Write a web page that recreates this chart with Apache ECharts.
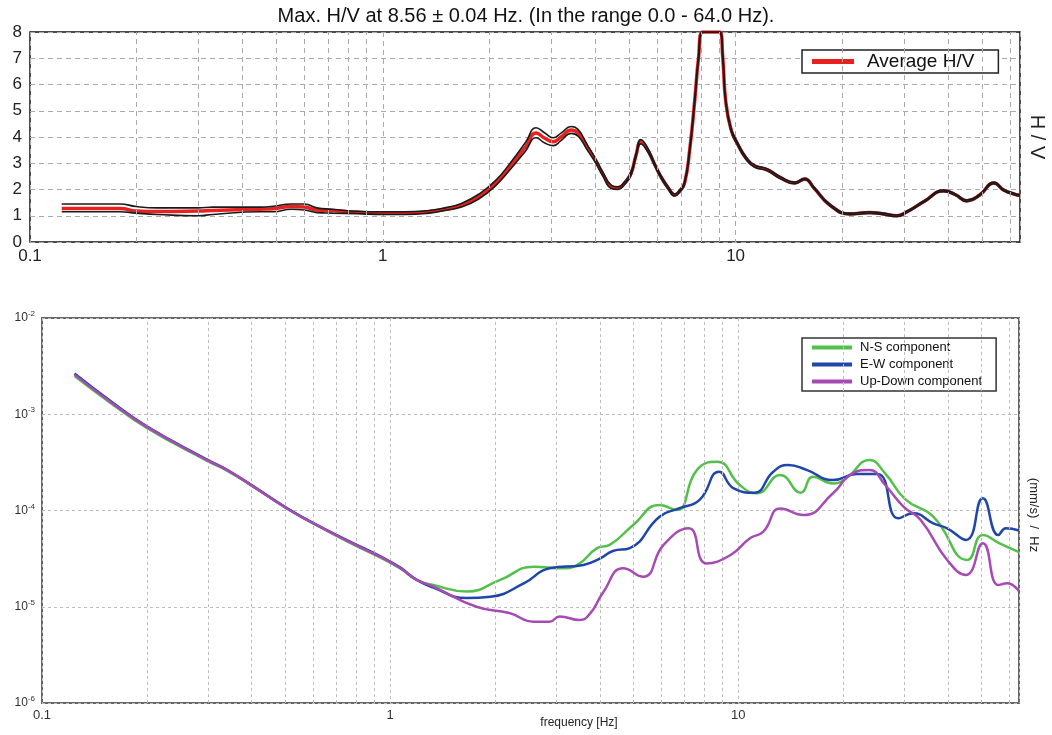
<!DOCTYPE html>
<html><head><meta charset="utf-8">
<script src="https://cdn.jsdelivr.net/npm/echarts@6/dist/echarts.min.js"></script>
<style>html,body{margin:0;padding:0;background:#fff}#c{width:1052px;height:735px}</style>
</head><body><div id="c"></div>
<script>
const FONT = '"Liberation Sans", Arial, sans-serif';
const titleText = 'Max. H/V at 8.56 \u00b1 0.04 Hz. (In the range 0.0 - 64.0 Hz).';

// ---- Top chart: H/V ratio ----
const hvFreq = [0.123, 0.18, 0.2, 0.23, 0.3, 0.33, 0.45, 0.49, 0.55, 0.6, 0.65, 0.72, 0.85, 1.0, 1.15, 1.35, 1.5, 1.67, 1.87, 2.09, 2.31, 2.54, 2.72, 2.88, 3.04, 3.2, 3.42, 3.58, 3.8, 4.0, 4.22, 4.44, 4.64, 4.85, 5.05, 5.22, 5.39, 5.64, 5.9, 6.14, 6.45, 6.72, 6.95, 7.17, 7.41, 7.66, 7.85, 8.07, 8.5, 9.01, 9.2, 9.37, 9.7, 10.1, 10.7, 11.3, 12.3, 13.4, 14.7, 15.7, 16.7, 18.5, 21.1, 24.0, 26, 28.7, 30.6, 34.2, 38.9, 42, 45.2, 49.2, 54, 57.5, 61.8, 64];
const hvAvg = [1.28, 1.28, 1.18, 1.16, 1.18, 1.2, 1.25, 1.27, 1.35, 1.33, 1.22, 1.2, 1.13, 1.1, 1.1, 1.15, 1.25, 1.4, 1.73, 2.25, 2.93, 3.63, 4.15, 3.95, 3.82, 4.0, 4.27, 4.15, 3.6, 3.12, 2.55, 2.1, 2.05, 2.25, 2.6, 3.3, 3.82, 3.5, 2.95, 2.49, 2.05, 1.79, 1.95, 2.25, 3.5, 5.4, 7.0, 8, 8, 8, 7.0, 5.4, 4.3, 3.77, 3.2, 2.9, 2.75, 2.45, 2.25, 2.4, 2.05, 1.41, 1.07, 1.12, 1.08, 1.0, 1.15, 1.54, 1.95, 1.8, 1.57, 1.79, 2.25, 1.98, 1.82, 1.78];
const hvUpper = [1.45, 1.45, 1.35, 1.3, 1.3, 1.33, 1.33, 1.36, 1.45, 1.45, 1.3, 1.25, 1.17, 1.15, 1.15, 1.2, 1.3, 1.47, 1.82, 2.35, 3.05, 3.8, 4.35, 4.15, 3.97, 4.15, 4.4, 4.28, 3.7, 3.2, 2.62, 2.17, 2.1, 2.3, 2.66, 3.36, 3.9, 3.57, 3.0, 2.54, 2.1, 1.83, 1.99, 2.3, 3.55, 5.45, 7.05, 8, 8, 8, 7.05, 5.45, 4.35, 3.82, 3.25, 2.94, 2.79, 2.49, 2.28, 2.43, 2.08, 1.44, 1.1, 1.15, 1.11, 1.03, 1.18, 1.57, 1.98, 1.83, 1.6, 1.82, 2.28, 2.01, 1.85, 1.81];
const hvLower = [1.15, 1.15, 1.1, 1.05, 1.0, 1.05, 1.15, 1.15, 1.25, 1.22, 1.12, 1.1, 1.08, 1.05, 1.05, 1.1, 1.2, 1.33, 1.64, 2.15, 2.8, 3.47, 3.97, 3.77, 3.67, 3.86, 4.14, 4.03, 3.5, 3.04, 2.48, 2.04, 2.0, 2.2, 2.54, 3.24, 3.74, 3.43, 2.9, 2.44, 2.0, 1.75, 1.91, 2.2, 3.45, 5.35, 6.95, 8, 8, 8, 6.95, 5.35, 4.25, 3.72, 3.15, 2.86, 2.71, 2.41, 2.22, 2.37, 2.02, 1.38, 1.04, 1.09, 1.05, 0.97, 1.12, 1.51, 1.92, 1.77, 1.54, 1.76, 2.22, 1.95, 1.79, 1.75];

// ---- Bottom chart: spectra ----
const nsFreq = [0.124, 0.157, 0.2, 0.297, 0.34, 0.405, 0.505, 0.6, 0.767, 0.935, 1.07, 1.19, 1.33, 1.66, 2.07, 2.58, 3.13, 3.45, 3.93, 4.27, 4.99, 5.94, 6.65, 7.6, 8.7, 10.1, 11.3, 13.2, 15.1, 16.4, 18.7, 20.4, 23.8, 26.4, 30.3, 36.3, 45.5, 50.4, 56.3, 64];
const nsVal = [2.5e-3, 1.32e-3, 7.2e-4, 3.3e-4, 2.6e-4, 1.76e-4, 1.05e-4, 7.4e-5, 4.6e-5, 3.25e-5, 2.5e-5, 1.9e-5, 1.68e-5, 1.44e-5, 1.9e-5, 2.61e-5, 2.51e-5, 2.72e-5, 4.07e-5, 4.39e-5, 7.08e-5, 1.14e-4, 1.01e-4, 2.63e-4, 3.21e-4, 1.84e-4, 1.51e-4, 2.34e-4, 1.53e-4, 2.24e-4, 1.91e-4, 2.16e-4, 3.35e-4, 2.43e-4, 1.29e-4, 8.63e-5, 3.06e-5, 5.56e-5, 4.56e-5, 3.7e-5];
const ewFreq = [0.124, 0.157, 0.2, 0.297, 0.34, 0.405, 0.505, 0.6, 0.767, 0.935, 1.07, 1.19, 1.33, 1.66, 1.94, 2.42, 2.87, 3.59, 4.01, 4.36, 4.88, 5.94, 6.75, 7.74, 8.8, 9.7, 11.1, 12.6, 13.9, 15.7, 18.7, 21.9, 25.1, 28.8, 31.8, 36.3, 39.8, 45.1, 50.4, 55.8, 58.7, 64];
const ewVal = [2.65e-3, 1.38e-3, 7.5e-4, 3.4e-4, 2.65e-4, 1.78e-4, 1.06e-4, 7.45e-5, 4.75e-5, 3.35e-5, 2.55e-5, 1.91e-5, 1.58e-5, 1.23e-5, 1.27e-5, 1.75e-5, 2.51e-5, 2.72e-5, 3.18e-5, 3.8e-5, 4.07e-5, 8.63e-5, 1.05e-4, 1.29e-4, 2.53e-4, 1.7e-4, 1.53e-4, 2.53e-4, 2.97e-4, 2.64e-4, 2.07e-4, 2.39e-4, 2.39e-4, 8.3e-5, 9.35e-5, 7.36e-5, 6.53e-5, 4.94e-5, 1.34e-4, 5.56e-5, 6.53e-5, 6.2e-5];
const udFreq = [0.124, 0.157, 0.2, 0.297, 0.34, 0.405, 0.505, 0.6, 0.767, 0.935, 1.07, 1.19, 1.33, 1.77, 2.2, 2.58, 2.87, 3.07, 3.5, 3.76, 4.08, 4.67, 5.33, 6.1, 7.2, 8.1, 9.5, 10.8, 11.8, 13.2, 15.4, 18.7, 21.3, 23.8, 26.4, 29.8, 33.4, 39.8, 45.1, 50.4, 55.8, 59.2, 64];
const udVal = [2.58e-3, 1.35e-3, 7.4e-4, 3.35e-4, 2.63e-4, 1.77e-4, 1.05e-4, 7.4e-5, 4.68e-5, 3.31e-5, 2.51e-5, 1.91e-5, 1.62e-5, 1.0e-5, 8.61e-6, 7.0e-6, 7.0e-6, 7.94e-6, 7.28e-6, 8.59e-6, 1.39e-5, 2.51e-5, 2.05e-5, 4.39e-5, 6.53e-5, 2.82e-5, 3.45e-5, 5.14e-5, 6.03e-5, 1.05e-4, 8.97e-5, 1.51e-4, 2.43e-4, 2.64e-4, 1.84e-4, 1.1e-4, 7.96e-5, 3.06e-5, 2.14e-5, 4.56e-5, 1.68e-5, 1.75e-5, 1.45e-5];

// minor vertical grid positions (log axis)
const minorFreqs = [0.2, 0.3, 0.4, 0.5, 0.6, 0.7, 0.8, 0.9, 2, 3, 4, 5, 6, 7, 8, 9, 20, 30, 40, 50, 60];

function pairs(xs, ys) { return xs.map((x, i) => [x, ys[i]]); }
function minorLines(color, dash) {
  return { silent: true, symbol: ['none', 'none'], label: { show: false }, animation: false,
    lineStyle: { color: color, type: dash, width: 1 }, emphasis: { disabled: true },
    data: minorFreqs.map(f => ({ xAxis: f })) };
}
function lineSeries(name, xi, data, color, width, z) {
  return { name: name, type: 'line', xAxisIndex: xi, yAxisIndex: xi, data: data, showSymbol: false,
    smooth: 0.5, z: z, color: color, itemStyle: { color: color },
    lineStyle: { color: color, width: width }, emphasis: { disabled: true } };
}

const chart = echarts.init(document.getElementById('c'));
const option = {
  animation: false,
  backgroundColor: '#fff',
  title: { text: titleText, left: 'center', top: 1,
    textStyle: { fontFamily: FONT, fontSize: 20, fontWeight: 'normal', color: '#111' } },
  grid: [
    { left: 30, right: 32, top: 32, height: 210, show: true, borderColor: '#111', borderWidth: 1.5, backgroundColor: 'rgba(0,0,0,0)' },
    { left: 42, right: 33, top: 318, height: 385, show: true, borderColor: '#666', borderWidth: 2, backgroundColor: 'rgba(0,0,0,0)' }
  ],
  xAxis: [
    { type: 'log', gridIndex: 0, logBase: 10, min: 0.1, max: 64,
      axisLine: { show: false }, axisTick: { show: false },
      axisLabel: { showMaxLabel: false, fontSize: 17, color: '#222', margin: 6, fontFamily: FONT },
      splitLine: { show: true, lineStyle: { color: '#ababab', type: [5, 4], width: 1 } } },
    { type: 'log', gridIndex: 1, logBase: 10, min: 0.1, max: 64,
      axisLine: { show: false }, axisTick: { show: false },
      axisLabel: { showMaxLabel: false, fontSize: 13, color: '#333', margin: 6, fontFamily: FONT },
      splitLine: { show: true, lineStyle: { color: '#bdbdbd', type: [3, 3], width: 1 } } }
  ],
  yAxis: [
    { type: 'value', gridIndex: 0, min: 0, max: 8, interval: 1,
      axisLine: { show: false }, axisTick: { show: false },
      axisLabel: { fontSize: 17, color: '#222', margin: 8, fontFamily: FONT },
      splitLine: { show: true, lineStyle: { color: '#ababab', type: [5, 4], width: 1 } } },
    { type: 'log', gridIndex: 1, logBase: 10, min: 1e-6, max: 1e-2,
      axisLine: { show: false }, axisTick: { show: false },
      axisLabel: { margin: 7,
        formatter: v => '{b|10}{s|' + Math.round(Math.log10(v)) + '}',
        rich: { b: { fontSize: 12, color: '#333', fontFamily: FONT, lineHeight: 16 },
                s: { fontSize: 8, color: '#333', fontFamily: FONT, verticalAlign: 'top', lineHeight: 9 } } },
      splitLine: { show: true, lineStyle: { color: '#bdbdbd', type: [3, 3], width: 1 } } }
  ],
  legend: [
    { data: ['Average H/V'], left: 802, top: 50, orient: 'horizontal', icon: 'rect',
      itemWidth: 42, itemHeight: 5, backgroundColor: '#fff', borderColor: '#222', borderWidth: 1.5,
      padding: [2, 24, 2, 10], selectedMode: false,
      textStyle: { fontSize: 19, color: '#111', fontFamily: FONT, padding: [0, 0, 0, 8] } },
    { data: ['N-S component', 'E-W component', 'Up-Down component'], left: 802, top: 338, orient: 'vertical',
      icon: 'rect', itemWidth: 40, itemHeight: 4, itemGap: 2, backgroundColor: '#fff',
      borderColor: '#333', borderWidth: 1.5, padding: [2, 14, 2, 10], selectedMode: false,
      textStyle: { fontSize: 13, lineHeight: 15, color: '#111', fontFamily: FONT, padding: [0, 0, 0, 3] } }
  ],
  graphic: [
    { type: 'text', x: 1037, y: 137, rotation: -Math.PI / 2,
      style: { text: 'H / V', fontSize: 20, fontFamily: FONT, fill: '#222', align: 'center', verticalAlign: 'middle' } },
    { type: 'text', x: 1034, y: 515, rotation: -Math.PI / 2,
      style: { text: '(mm/s)  /  Hz', fontSize: 13, fontFamily: FONT, fill: '#222', align: 'center', verticalAlign: 'middle' } },
    { type: 'text', x: 579, y: 723,
      style: { text: 'frequency [Hz]', fontSize: 12, fontFamily: FONT, fill: '#222', align: 'center', verticalAlign: 'middle' } }
  ],
  series: [
    { type: 'line', xAxisIndex: 0, yAxisIndex: 0, data: [], z: 1, silent: true, markLine: minorLines('#ababab', [5, 4]) },
    lineSeries('Average H/V', 0, pairs(hvFreq, hvAvg), '#e8211f', 3.5, 3),
    lineSeries('Upper', 0, pairs(hvFreq, hvUpper), '#1a1a1a', 1.6, 4),
    lineSeries('Lower', 0, pairs(hvFreq, hvLower), '#1a1a1a', 1.6, 4),
    { type: 'line', xAxisIndex: 1, yAxisIndex: 1, data: [], z: 1, silent: true, markLine: minorLines('#bdbdbd', [3, 3]) },
    lineSeries('N-S component', 1, pairs(nsFreq, nsVal), '#52c04b', 2.5, 3),
    lineSeries('E-W component', 1, pairs(ewFreq, ewVal), '#2146aa', 2.5, 4),
    lineSeries('Up-Down component', 1, pairs(udFreq, udVal), '#a64bb3', 2.5, 5)
  ]
};
chart.setOption(option);
</script>
</body></html>
